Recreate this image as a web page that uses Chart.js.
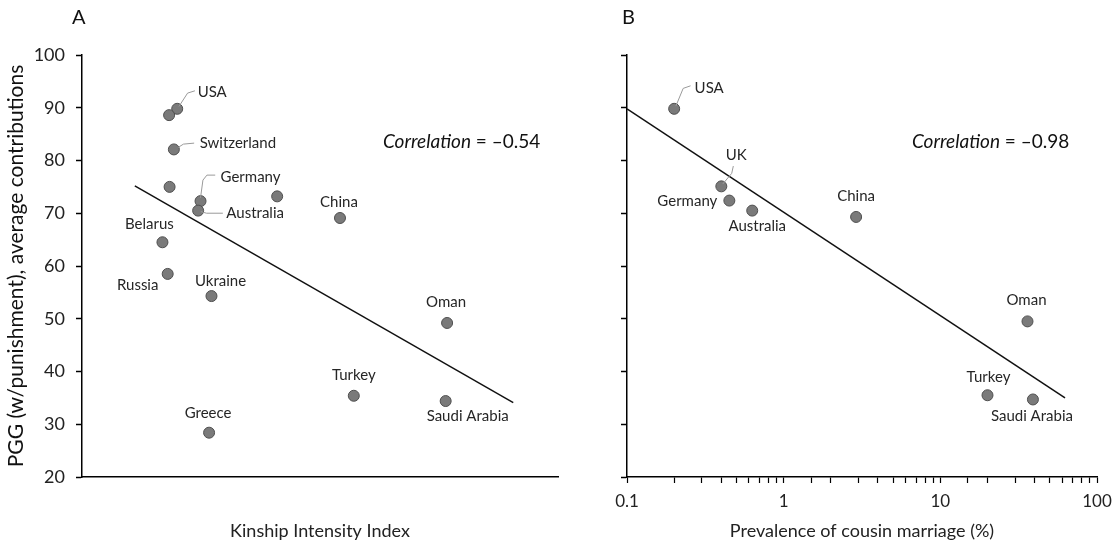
<!DOCTYPE html>
<html>
<head>
<meta charset="utf-8">
<script src="https://cdn.jsdelivr.net/npm/chart.js@4.4.0/dist/chart.umd.min.js"></script>
<style>
  body { margin: 0; background: #fff; overflow: hidden; }
  #wrap { position: relative; width: 1112px; height: 542px; overflow: hidden; }
  .panel { position: absolute; top: 0; height: 542px; }
  #panelA { left: 0; width: 570px; }
  #panelB { left: 556px; width: 600px; }
</style>
</head>
<body>
<div id="wrap">
  <div class="panel" id="panelA"><canvas id="chartA"></canvas></div>
  <div class="panel" id="panelB"><canvas id="chartB"></canvas></div>
</div>
<script>
// panel A: kinship intensity (no scale shown) vs PGG contributions
const countriesA = ['USA', '', 'Switzerland', '', 'Germany', 'Australia', '', 'China', 'Belarus', 'Russia', 'Ukraine', 'Oman', 'Turkey', 'Saudi Arabia', 'Greece'];
const kinshipA = [2.00, 1.83, 1.93, 1.84, 2.49, 2.44, 4.10, 5.42, 1.69, 1.80, 2.72, 7.67, 5.71, 7.64, 2.67];
const pggA = [89.8, 88.6, 82.1, 75.0, 72.3, 70.5, 73.2, 69.1, 64.5, 58.5, 54.3, 49.2, 35.4, 34.4, 28.4];
const fitXA = [1.11, 9.06];
const fitYA = [75.2, 34.1];

// panel B: cousin marriage (%) vs PGG contributions
const countriesB = ['USA', 'UK', 'Germany', 'Australia', 'China', 'Oman', 'Turkey', 'Saudi Arabia'];
const cousinB = [0.2, 0.4, 0.45, 0.63, 2.9, 36, 20, 39];
const pggB = [89.8, 75.1, 72.4, 70.5, 69.3, 49.5, 35.5, 34.7];
const fitXB = [0.1, 62.5];
const fitYB = [89.8, 35.0];

const yTicks = [20, 30, 40, 50, 60, 70, 80, 90, 100];
const xTicksB = [0.1, 1, 10, 100];

// label placement (pixel offsets from the dot) and leader lines
const labelOffA = [[35, -17], null, [64, -6], null, [50, -24], [57, 3], null, [-1, -16], [-13, -18], [-30, 11], [9, -15], [-1, -21], [0, -21], [22, 15], [-1, -20]];
const leadersA = {
  0: [[1.7, -2.3], [10.4, -15.7], [17.7, -18]],
  2: [[4.3, -2], [9.6, -5.3], [20.3, -6.3]],
  4: [[0, -3.3], [2.4, -21], [6.4, -26], [14.7, -26]],
  5: [[2.7, 1], [8.4, 2.6], [24.7, 2.6]]
};
const labelOffB = [[35, -21], [15, -31], [-42, 1], [5, 16], [0, -21], [-1, -21], [1, -18], [-1, 17]];
const leadersB = {
  0: [[1.7, -2.7], [9, -20.4], [16.4, -23]],
  1: [[1.4, -2.3], [10.4, -13], [12, -20.3]]
};

const FONT = 'Lato, "Open Sans", sans-serif';

function overlay(letter, letterX, corrText, corrDx, names, offs, leaders) {
  return {
    id: 'overlay' + letter,
    afterDatasetsDraw(chart) {
      const ctx = chart.ctx;
      const area = chart.chartArea;
      const pts = chart.getDatasetMeta(0).data;
      ctx.save();
      // leader lines
      ctx.strokeStyle = '#9a9a9a';
      ctx.lineWidth = 1;
      Object.keys(leaders).forEach(k => {
        const p = pts[k];
        ctx.beginPath();
        leaders[k].forEach((d, j) => {
          if (j === 0) ctx.moveTo(p.x + d[0], p.y + d[1]);
          else ctx.lineTo(p.x + d[0], p.y + d[1]);
        });
        ctx.stroke();
      });
      // country labels
      ctx.fillStyle = '#262626';
      ctx.font = '15px ' + FONT;
      ctx.textAlign = 'center';
      ctx.textBaseline = 'middle';
      names.forEach((n, i) => {
        if (!n || !offs[i]) return;
        ctx.fillText(n, pts[i].x + offs[i][0], pts[i].y + offs[i][1]);
      });
      // panel letter
      ctx.fillStyle = '#111';
      ctx.font = '20px ' + FONT;
      ctx.textAlign = 'left';
      ctx.fillText(letter, letterX, 18);
      // correlation note
      ctx.font = 'italic 19px ' + FONT;
      const x0 = area.left + corrDx;
      ctx.fillText('Correlation', x0, 142);
      const w = ctx.measureText('Correlation').width;
      ctx.font = '19px ' + FONT;
      ctx.fillText(' = ' + corrText, x0 + w, 142);
      ctx.restore();
    }
  };
}

const axisBorder = { display: true, color: '#000', width: 1.5 };

new Chart(document.getElementById('chartA'), {
  type: 'scatter',
  data: {
    datasets: [
      {
        data: kinshipA.map((x, i) => ({ x: x, y: pggA[i] })),
        backgroundColor: '#7a7a7a',
        borderColor: '#4f4f4f',
        borderWidth: 1,
        pointRadius: 5.5
      },
      {
        data: fitXA.map((x, i) => ({ x: x, y: fitYA[i] })),
        showLine: true,
        borderColor: '#111',
        borderWidth: 1.5,
        pointRadius: 0
      }
    ]
  },
  options: {
    responsive: true,
    maintainAspectRatio: false,
    animation: false,
    layout: { padding: { left: 0, top: 55, right: 12, bottom: 0 } },
    plugins: { legend: { display: false }, tooltip: { enabled: false } },
    scales: {
      x: {
        type: 'linear', min: 0, max: 10,
        ticks: { display: false },
        grid: { display: false, drawTicks: false },
        border: axisBorder,
        title: { display: true, text: 'Kinship Intensity Index', color: '#222', font: { family: FONT, size: 18 }, padding: { top: 4, bottom: 0 } },
        afterFit: s => { s.height = 65; }
      },
      y: {
        min: 20, max: 100,
        afterBuildTicks: s => { s.ticks = yTicks.map(v => ({ value: v })); },
        ticks: { padding: 11, color: '#222', font: { family: FONT, size: 18 } },
        grid: { drawOnChartArea: false, drawTicks: true, tickLength: 6, color: '#000', tickWidth: 1.5 },
        border: axisBorder,
        title: { display: true, text: 'PGG (w/punishment), average contributions', color: '#111', font: { family: FONT, size: 21 } },
        afterFit: s => { s.width = 82; }
      }
    }
  },
  plugins: [overlay('A', 72, '\u20130.54', 301, countriesA, labelOffA, leadersA)]
});

new Chart(document.getElementById('chartB'), {
  type: 'scatter',
  data: {
    datasets: [
      {
        data: cousinB.map((x, i) => ({ x: x, y: pggB[i] })),
        backgroundColor: '#7a7a7a',
        borderColor: '#4f4f4f',
        borderWidth: 1,
        pointRadius: 5.5
      },
      {
        data: fitXB.map((x, i) => ({ x: x, y: fitYB[i] })),
        showLine: true,
        borderColor: '#111',
        borderWidth: 1.5,
        pointRadius: 0
      }
    ]
  },
  options: {
    responsive: true,
    maintainAspectRatio: false,
    animation: false,
    layout: { padding: { left: 0, top: 55, right: 59, bottom: 0 } },
    plugins: { legend: { display: false }, tooltip: { enabled: false } },
    scales: {
      x: {
        type: 'logarithmic', min: 0.1, max: 100,
        ticks: {
          autoSkip: false, maxRotation: 0, padding: 8, color: '#222',
          font: { family: FONT, size: 17 },
          callback: v => xTicksB.some(t => Math.abs(t - v) < 1e-9) ? String(v) : ''
        },
        grid: { drawOnChartArea: false, drawTicks: true, tickLength: 6, color: '#000', tickWidth: 1.2 },
        border: axisBorder,
        title: { display: true, text: 'Prevalence of cousin marriage (%)', color: '#222', font: { family: FONT, size: 18 }, padding: { top: 4, bottom: 0 } },
        afterFit: s => { s.height = 65; }
      },
      y: {
        min: 20, max: 100,
        afterBuildTicks: s => { s.ticks = yTicks.map(v => ({ value: v })); },
        ticks: { display: false },
        grid: { drawOnChartArea: false, drawTicks: true, tickLength: 6, color: '#000', tickWidth: 1.5 },
        border: axisBorder,
        afterFit: s => { s.width = 71; }
      }
    }
  },
  plugins: [overlay('B', 66, '\u20130.98', 285, countriesB, labelOffB, leadersB)]
});
</script>
</body>
</html>
